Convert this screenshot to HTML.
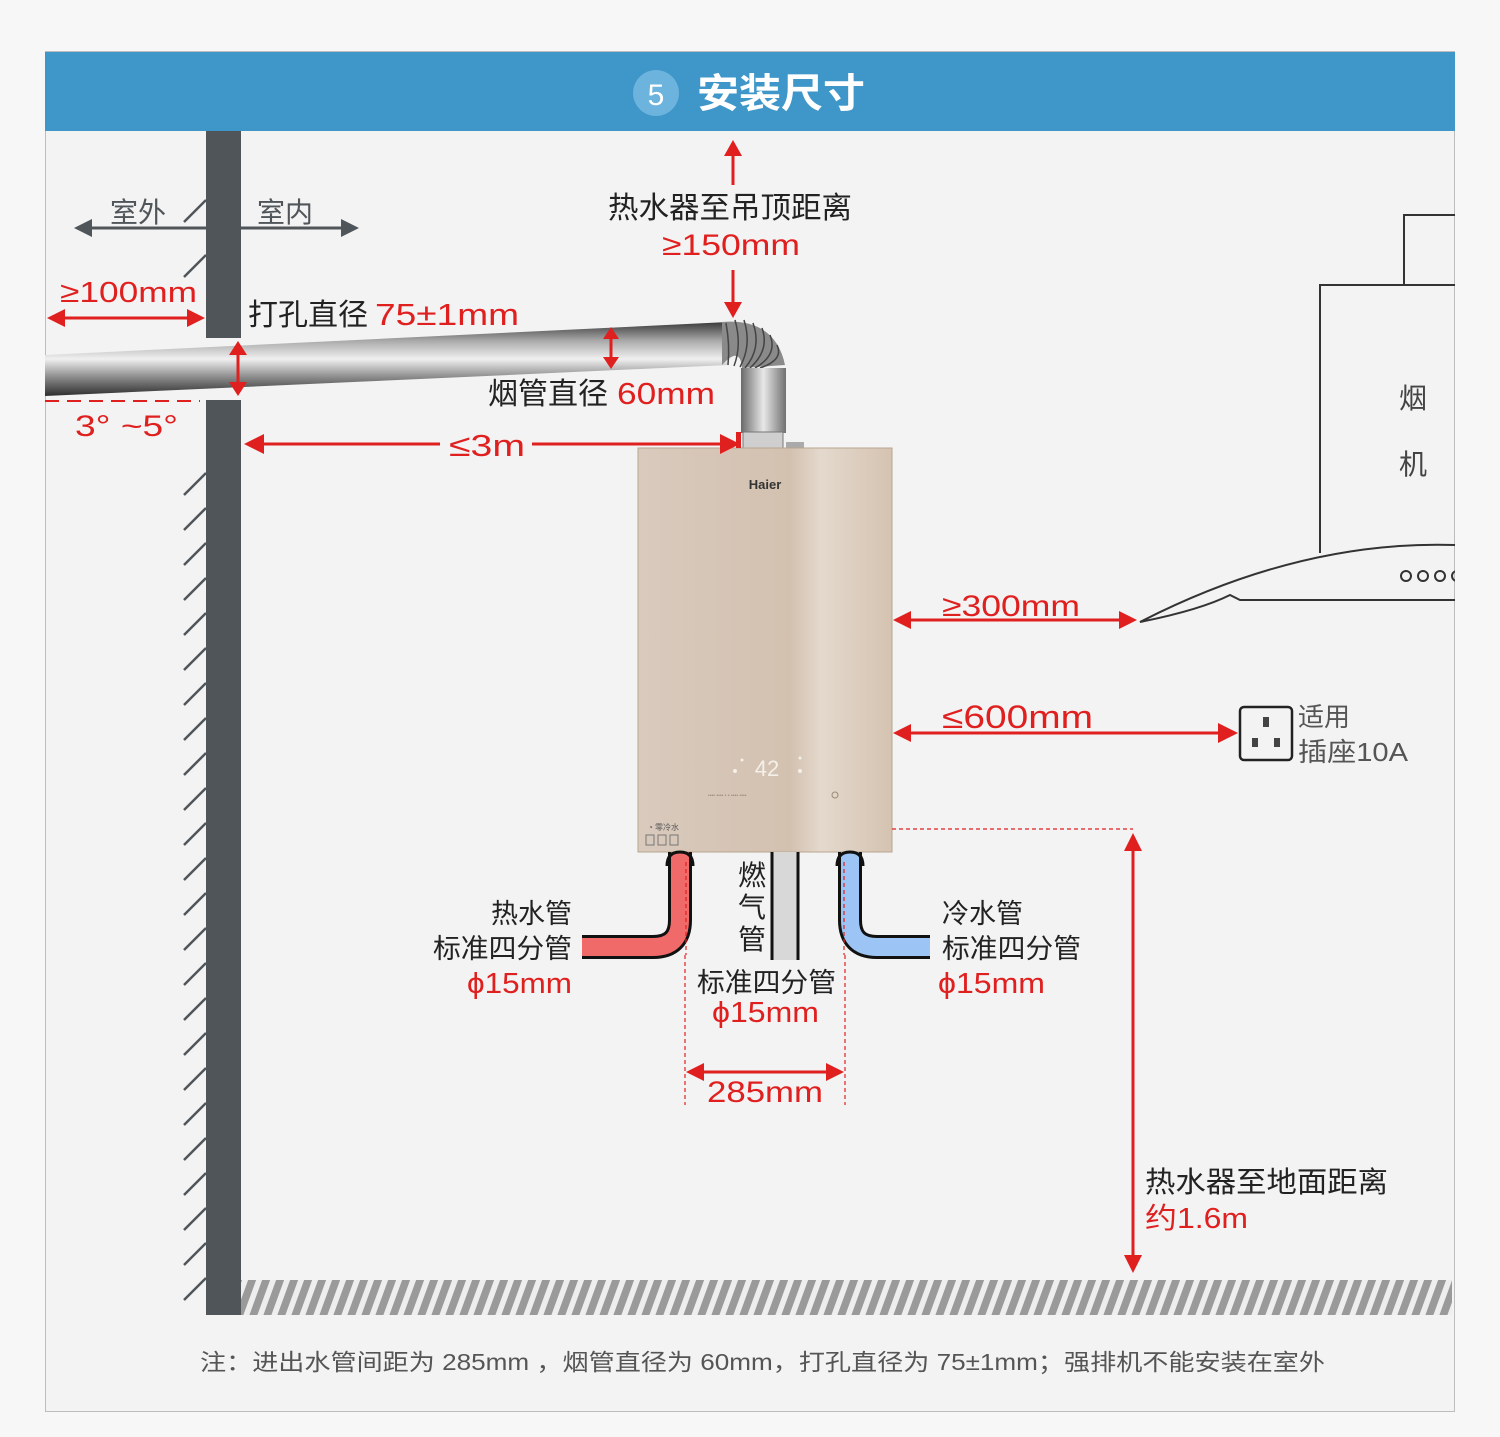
<!DOCTYPE html>
<html><head><meta charset="utf-8">
<style>
html,body{margin:0;padding:0;background:#f7f7f7;}
svg{display:block;}
text{font-family:"Liberation Sans","Noto Sans CJK SC",sans-serif;}
</style></head>
<body>
<svg width="1500" height="1437" viewBox="0 0 1500 1437" xmlns="http://www.w3.org/2000/svg">
<defs>
<linearGradient id="pipeg" x1="0" y1="0" x2="0" y2="1">
<stop offset="0" stop-color="#3a3a3a"/><stop offset="0.25" stop-color="#a8a8a8"/><stop offset="0.5" stop-color="#f0f0f0"/><stop offset="0.75" stop-color="#8a8a8a"/><stop offset="1" stop-color="#2e2e2e"/>
</linearGradient>
<linearGradient id="vpipe" x1="0" y1="0" x2="1" y2="0">
<stop offset="0" stop-color="#6a6a6a"/><stop offset="0.5" stop-color="#e8e8e8"/><stop offset="1" stop-color="#707070"/>
</linearGradient>
<linearGradient id="body" x1="0" y1="0" x2="1" y2="0">
<stop offset="0" stop-color="#d9cabd"/><stop offset="0.6" stop-color="#d3c1b0"/><stop offset="0.72" stop-color="#e4d9cd"/><stop offset="1" stop-color="#d5c3b1"/>
</linearGradient>
<pattern id="hatch" width="14" height="35" patternUnits="userSpaceOnUse" patternTransform="skewX(-20)">
<rect width="14" height="35" fill="#eeeeee"/><rect width="8" height="35" fill="#9a9a9a"/>
</pattern>
<clipPath id="frame"><rect x="45" y="131" width="1410" height="1280"/></clipPath>
</defs>

<rect x="0" y="0" width="1500" height="1437" fill="#f7f7f7"/>
<rect x="45.5" y="51.5" width="1409" height="1360" fill="#f3f3f3" stroke="#bdbdbd"/>
<rect x="45" y="52" width="1410" height="79" fill="#3e97c8"/>
<circle cx="656" cy="93" r="23" fill="#6cb3de"/>
<text x="656" y="105" font-size="30" fill="#fff" text-anchor="middle">5</text>
<text x="697" y="107" font-size="40" font-weight="bold" fill="#fff" textLength="168" lengthAdjust="spacingAndGlyphs">安装尺寸</text>

<rect x="206" y="131" width="35" height="207" fill="#50555a"/>
<rect x="206" y="400" width="35" height="915" fill="#50555a"/>
<g stroke="#50555a" stroke-width="2.5">
<line x1="184" y1="222" x2="206" y2="200"/>
<line x1="184" y1="277" x2="206" y2="255"/>
<line x1="184" y1="495" x2="206" y2="473"/><line x1="184" y1="530" x2="206" y2="508"/><line x1="184" y1="565" x2="206" y2="543"/><line x1="184" y1="600" x2="206" y2="578"/><line x1="184" y1="635" x2="206" y2="613"/><line x1="184" y1="670" x2="206" y2="648"/><line x1="184" y1="705" x2="206" y2="683"/><line x1="184" y1="740" x2="206" y2="718"/><line x1="184" y1="775" x2="206" y2="753"/><line x1="184" y1="810" x2="206" y2="788"/><line x1="184" y1="845" x2="206" y2="823"/><line x1="184" y1="880" x2="206" y2="858"/><line x1="184" y1="915" x2="206" y2="893"/><line x1="184" y1="950" x2="206" y2="928"/><line x1="184" y1="985" x2="206" y2="963"/><line x1="184" y1="1020" x2="206" y2="998"/><line x1="184" y1="1055" x2="206" y2="1033"/><line x1="184" y1="1090" x2="206" y2="1068"/><line x1="184" y1="1125" x2="206" y2="1103"/><line x1="184" y1="1160" x2="206" y2="1138"/><line x1="184" y1="1195" x2="206" y2="1173"/><line x1="184" y1="1230" x2="206" y2="1208"/><line x1="184" y1="1265" x2="206" y2="1243"/><line x1="184" y1="1300" x2="206" y2="1278"/>
</g>
<rect x="241" y="1280" width="1211" height="35" fill="url(#hatch)"/>

<line x1="85" y1="228" x2="348" y2="228" stroke="#50555a" stroke-width="3"/>
<polygon points="74,228 92,219 92,237" fill="#50555a"/>
<polygon points="359,228 341,219 341,237" fill="#50555a"/>
<text x="110" y="222" font-size="28" fill="#50555a">室外</text>
<text x="257" y="222" font-size="28" fill="#50555a">室内</text>

<polygon points="45,355 728,322 728,365 45,396" fill="url(#pipeg)"/>
<path d="M722,322 Q775,318 785,365 L742,368 Q740,345 722,365 Z" fill="#8a8a8a"/>
<g stroke="#444" stroke-width="1.5" fill="none">
<path d="M726,323 Q730,345 728,365"/><path d="M735,320 Q742,345 734,366"/><path d="M744,320 Q752,345 740,367"/><path d="M753,323 Q762,348 745,368"/><path d="M762,328 Q770,350 750,368"/><path d="M770,335 Q778,355 755,368"/><path d="M777,345 Q784,360 760,368"/>
</g>
<rect x="741" y="368" width="45" height="65" fill="url(#vpipe)"/>
<rect x="743" y="432" width="40" height="16" fill="#cfcfcf" stroke="#777"/>
<rect x="786" y="442" width="18" height="6" fill="#aaa"/>

<rect x="638" y="448" width="254" height="404" fill="url(#body)" stroke="#b8a690"/>
<text x="765" y="489" font-size="13" font-weight="bold" fill="#333" text-anchor="middle">Haier</text>
<text x="767" y="776" font-size="22" fill="#f4f0ea" text-anchor="middle">42</text>
<g fill="#f4f0ea"><circle cx="735" cy="771" r="2"/><circle cx="800" cy="771" r="2"/><circle cx="742" cy="760" r="1.5"/><circle cx="800" cy="758" r="1.5"/></g>
<g fill="#9a8a78" font-size="5"><text x="708" y="797">••••  ••••       •        •       ••••  ••••</text></g>
<circle cx="835" cy="795" r="3" fill="none" stroke="#9a8a78"/>
<text x="648" y="830" font-size="8" fill="#555">◔ 零冷水</text>
<g fill="none" stroke="#777"><rect x="646" y="835" width="8" height="10"/><rect x="658" y="835" width="8" height="10"/><rect x="670" y="835" width="8" height="10"/></g>

<rect x="773" y="852" width="24" height="108" fill="#d8d8d8"/>
<line x1="772" y1="852" x2="772" y2="960" stroke="#111" stroke-width="3"/>
<line x1="798" y1="852" x2="798" y2="960" stroke="#111" stroke-width="3"/>
<path d="M680,852 L680,920 Q680,947 653,947 L582,947" fill="none" stroke="#111" stroke-width="24"/>
<path d="M680,852 L680,920 Q680,947 653,947 L582,947" fill="none" stroke="#f06a6a" stroke-width="18"/>
<path d="M667,866 Q667,852 680,852 Q693,852 693,866" fill="none" stroke="#111" stroke-width="3"/>
<path d="M850,852 L850,920 Q850,947 877,947 L930,947" fill="none" stroke="#111" stroke-width="24"/>
<path d="M850,852 L850,920 Q850,947 877,947 L930,947" fill="none" stroke="#9cc4f4" stroke-width="18"/>
<path d="M837,866 Q837,852 850,852 Q863,852 863,866" fill="none" stroke="#111" stroke-width="3"/>

<g clip-path="url(#frame)">
<g fill="none" stroke="#333" stroke-width="2">
<path d="M1455,215 L1404,215 L1404,285"/>
<path d="M1455,285 L1320,285 L1320,553"/>
<path d="M1455,545 Q1300,540 1140,622 Q1200,610 1230,595 L1240,600 L1455,600"/>
</g>
<g fill="none" stroke="#333" stroke-width="2"><circle cx="1406" cy="576" r="5"/><circle cx="1423" cy="576" r="5"/><circle cx="1440" cy="576" r="5"/><circle cx="1457" cy="576" r="5"/></g>
</g>
<text x="1413" y="408" font-size="28" fill="#444" text-anchor="middle">烟</text>
<text x="1413" y="474" font-size="28" fill="#444" text-anchor="middle">机</text>

<rect x="1240" y="707" width="52" height="53" rx="4" fill="none" stroke="#222" stroke-width="2.5"/>
<rect x="1263" y="717" width="6" height="10" fill="#444"/><rect x="1252" y="738" width="6" height="9" fill="#444"/><rect x="1274" y="738" width="6" height="9" fill="#444"/>
<text x="1298" y="726" font-size="26" fill="#555">适用</text>
<text x="1298" y="761" font-size="26" fill="#555" textLength="110" lengthAdjust="spacingAndGlyphs">插座10A</text>

<g stroke="#e01f1f" stroke-width="3" fill="none">
<line x1="55" y1="318" x2="196" y2="318"/>
<line x1="238" y1="350" x2="238" y2="387"/>
<line x1="611" y1="334" x2="611" y2="362"/>
<line x1="255" y1="444" x2="728" y2="444"/>
<line x1="733" y1="150" x2="733" y2="185"/>
<line x1="733" y1="270" x2="733" y2="308"/>
<line x1="903" y1="620" x2="1127" y2="620"/>
<line x1="903" y1="733" x2="1227" y2="733"/>
<line x1="1133" y1="843" x2="1133" y2="1263"/>
<line x1="696" y1="1072" x2="834" y2="1072"/>
</g>
<g stroke="#e01f1f" stroke-width="2" stroke-dasharray="14,8" fill="none">
<line x1="45" y1="401" x2="200" y2="401"/>
</g>
<g stroke="#e01f1f" stroke-width="1.2" stroke-dasharray="4,3" fill="none">
<line x1="892" y1="829" x2="1133" y2="829"/>
<line x1="685" y1="955" x2="685" y2="1105"/>
<line x1="845" y1="955" x2="845" y2="1105"/>
<line x1="686" y1="862" x2="686" y2="955"/>
<line x1="844" y1="862" x2="844" y2="955"/>
</g>
<g fill="#e01f1f">
<polygon points="47,318 65,309 65,327"/><polygon points="205,318 187,309 187,327"/>
<polygon points="238,341 229,355 247,355"/><polygon points="238,396 229,382 247,382"/>
<polygon points="611,327 603,339 619,339"/><polygon points="611,369 603,357 619,357"/>
<polygon points="244,444 264,434 264,454"/><polygon points="740,444 720,434 720,454"/>
<rect x="736" y="432" width="5" height="16"/>
<polygon points="733,140 724,156 742,156"/><polygon points="733,318 724,302 742,302"/>
<polygon points="893,620 911,611 911,629"/><polygon points="1137,620 1119,611 1119,629"/>
<polygon points="893,733 911,724 911,742"/><polygon points="1238,733 1218,723 1218,743"/>
<polygon points="1133,833 1124,851 1142,851"/><polygon points="1133,1273 1124,1255 1142,1255"/>
<polygon points="686,1072 704,1063 704,1081"/><polygon points="844,1072 826,1063 826,1081"/>
</g>

<g lengthAdjust="spacingAndGlyphs">
<text x="60" y="302" font-size="29" fill="#e01f1f" textLength="137" lengthAdjust="spacingAndGlyphs">≥100mm</text>
<text x="248" y="325" font-size="30" fill="#222">打孔直径 </text>
<text x="375" y="325" font-size="31" fill="#e01f1f" textLength="144" lengthAdjust="spacingAndGlyphs">75±1mm</text>
<text x="488" y="404" font-size="30" fill="#222">烟管直径 </text>
<text x="617" y="404" font-size="31" fill="#e01f1f" textLength="98" lengthAdjust="spacingAndGlyphs">60mm</text>
<text x="75" y="436" font-size="30" fill="#e01f1f" textLength="103" lengthAdjust="spacingAndGlyphs">3°  ~5°</text>
<rect x="440" y="428" width="92" height="32" fill="#f3f3f3"/>
<text x="449" y="456" font-size="31" fill="#e01f1f" textLength="76" lengthAdjust="spacingAndGlyphs">≤3m</text>
<text x="608" y="218" font-size="30" fill="#222" textLength="244" lengthAdjust="spacingAndGlyphs">热水器至吊顶距离</text>
<text x="662" y="255" font-size="30" fill="#e01f1f" textLength="138" lengthAdjust="spacingAndGlyphs">≥150mm</text>
<text x="942" y="616" font-size="30" fill="#e01f1f" textLength="138" lengthAdjust="spacingAndGlyphs">≥300mm</text>
<text x="942" y="728" font-size="32" fill="#e01f1f" textLength="151" lengthAdjust="spacingAndGlyphs">≤600mm</text>
<text x="1145" y="1192" font-size="29" fill="#222" textLength="243" lengthAdjust="spacingAndGlyphs">热水器至地面距离</text>
<text x="1145" y="1228" font-size="29" fill="#e01f1f" textLength="103" lengthAdjust="spacingAndGlyphs">约1.6m</text>
<text x="572" y="923" font-size="27" fill="#222" text-anchor="end">热水管</text>
<text x="433" y="958" font-size="27" fill="#222" textLength="139" lengthAdjust="spacingAndGlyphs">标准四分管</text>
<text x="467" y="993" font-size="29" fill="#e01f1f" textLength="105" lengthAdjust="spacingAndGlyphs">ϕ15mm</text>
<text x="942" y="923" font-size="27" fill="#222">冷水管</text>
<text x="942" y="958" font-size="27" fill="#222" textLength="139" lengthAdjust="spacingAndGlyphs">标准四分管</text>
<text x="938" y="993" font-size="29" fill="#e01f1f" textLength="107" lengthAdjust="spacingAndGlyphs">ϕ15mm</text>
<text x="752" y="885" font-size="28" fill="#222" text-anchor="middle">燃</text>
<text x="752" y="917" font-size="28" fill="#222" text-anchor="middle">气</text>
<text x="752" y="949" font-size="28" fill="#222" text-anchor="middle">管</text>
<text x="697" y="992" font-size="27" fill="#222" textLength="139" lengthAdjust="spacingAndGlyphs">标准四分管</text>
<text x="712" y="1022" font-size="29" fill="#e01f1f" textLength="107" lengthAdjust="spacingAndGlyphs">ϕ15mm</text>
<text x="707" y="1102" font-size="30" fill="#e01f1f" textLength="116" lengthAdjust="spacingAndGlyphs">285mm</text>
<text x="200" y="1370" font-size="23" fill="#555" textLength="1125" lengthAdjust="spacingAndGlyphs">注：进出水管间距为 285mm  ，烟管直径为 60mm，打孔直径为 75±1mm；强排机不能安装在室外</text>
</g>
</svg>
</body></html>
